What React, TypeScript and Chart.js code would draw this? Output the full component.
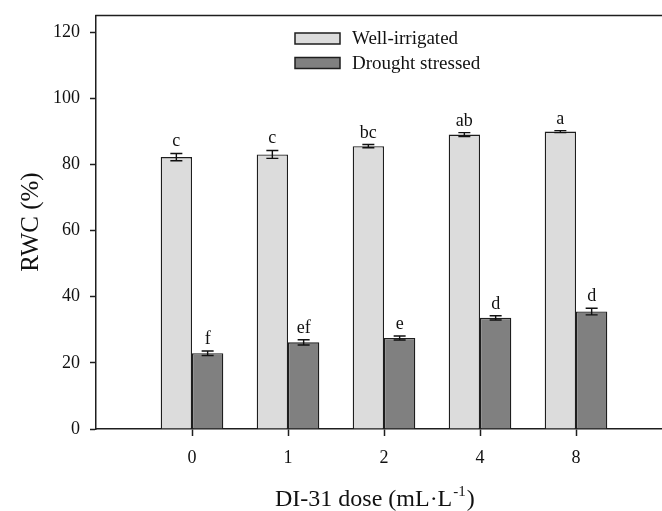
import React, { useEffect, useRef } from 'react';
import { Chart, registerables } from 'chart.js';

Chart.register(...registerables);

const doses = ['0', '1', '2', '4', '8'];
const wellIrrigated = [82.2, 83.0, 85.5, 89.0, 89.9];
const wellErr = [1.1, 1.2, 0.5, 0.6, 0.3];
const drought = [22.9, 26.2, 27.5, 33.6, 35.5];
const droughtErr = [0.7, 0.8, 0.6, 0.65, 1.0];
const wellLetters = ['c', 'c', 'bc', 'ab', 'a'];
const droughtLetters = ['f', 'ef', 'e', 'd', 'd'];
const yTicks = [0, 20, 40, 60, 80, 100, 120];
const seriesNames = ['Well-irrigated', 'Drought stressed'];
const yTitle = 'RWC (%)';
const xTitleMain = 'DI-31 dose (mL·L';
const xTitleSup = '-1';
const xTitleEnd = ')';

const FONT = '"Liberation Serif", "Times New Roman", serif';
const INK = '#1e1e1e';
const LIGHT = '#dcdcdc';
const DARK = '#808080';

export default function App() {
  const ref = useRef<HTMLCanvasElement | null>(null);

  useEffect(() => {
    const canvas = ref.current;
    if (!canvas) return;
    const labels = ['', ...doses, ''];
    const pad = (arr: number[]) => [null, ...arr, null];
    const errs = [wellErr, droughtErr];
    const vals = [wellIrrigated, drought];
    const letters = [wellLetters, droughtLetters];

    const overlay = {
      id: 'overlay',
      afterDatasetsDraw(chart: any) {
        const ctx = chart.ctx;
        const y = chart.scales.y;
        ctx.save();
        for (let d = 0; d < 2; d++) {
          const meta = chart.getDatasetMeta(d);
          for (let j = 0; j < doses.length; j++) {
            const el = meta.data[j + 1];
            if (!el) continue;
            const x = el.x;
            const v = vals[d][j];
            const e = errs[d][j];
            const yt = y.getPixelForValue(v + e);
            const yb = y.getPixelForValue(v - e);
            ctx.strokeStyle = '#111';
            ctx.lineWidth = 1.4;
            ctx.beginPath();
            ctx.moveTo(x, yt);
            ctx.lineTo(x, yb);
            ctx.moveTo(x - 6, yt);
            ctx.lineTo(x + 6, yt);
            ctx.moveTo(x - 6, yb);
            ctx.lineTo(x + 6, yb);
            ctx.stroke();
            ctx.fillStyle = '#111';
            ctx.font = `18px ${FONT}`;
            ctx.textAlign = 'center';
            ctx.textBaseline = 'alphabetic';
            ctx.fillText(letters[d][j], x, yt - 7);
          }
        }
        ctx.restore();
      },
      afterDraw(chart: any) {
        const ctx = chart.ctx;
        const a = chart.chartArea;
        ctx.save();
        // top frame line
        ctx.strokeStyle = INK;
        ctx.lineWidth = 1.5;
        ctx.beginPath();
        ctx.moveTo(a.left - 0.75, a.top);
        ctx.lineTo(a.right, a.top);
        ctx.stroke();
        // legend
        const fills = [LIGHT, DARK];
        const rows = [38.5, 63];
        for (let i = 0; i < 2; i++) {
          ctx.fillStyle = fills[i];
          ctx.fillRect(295, rows[i] - 5.5, 45, 11);
          ctx.strokeStyle = INK;
          ctx.lineWidth = 1.5;
          ctx.strokeRect(295, rows[i] - 5.5, 45, 11);
          ctx.fillStyle = '#111';
          ctx.font = `19px ${FONT}`;
          ctx.textAlign = 'left';
          ctx.textBaseline = 'middle';
          ctx.fillText(seriesNames[i], 352, rows[i] + 1);
        }
        // y title
        ctx.save();
        ctx.translate(38, 222);
        ctx.rotate(-Math.PI / 2);
        ctx.font = `25px ${FONT}`;
        ctx.textAlign = 'center';
        ctx.textBaseline = 'alphabetic';
        ctx.fillStyle = '#111';
        ctx.fillText(yTitle, 0, 0);
        ctx.restore();
        // x title with superscript
        ctx.fillStyle = '#111';
        ctx.textAlign = 'left';
        ctx.textBaseline = 'alphabetic';
        ctx.font = `24px ${FONT}`;
        const base = 506;
        let x = 275;
        ctx.fillText(xTitleMain, x, base);
        x += ctx.measureText(xTitleMain).width + 1;
        ctx.font = `15px ${FONT}`;
        ctx.fillText(xTitleSup, x, base - 10);
        x += ctx.measureText(xTitleSup).width + 1;
        ctx.font = `24px ${FONT}`;
        ctx.fillText(xTitleEnd, x, base);
        ctx.restore();
      },
    };

    const chart = new Chart(canvas, {
      type: 'bar',
      data: {
        labels,
        datasets: [
          {
            label: seriesNames[0],
            data: pad(wellIrrigated),
            backgroundColor: LIGHT,
            borderColor: INK,
            borderWidth: 1.3,
            categoryPercentage: 0.652,
            barPercentage: 1,
          },
          {
            label: seriesNames[1],
            data: pad(drought),
            backgroundColor: DARK,
            borderColor: INK,
            borderWidth: 1.3,
            categoryPercentage: 0.652,
            barPercentage: 1,
          },
        ],
      } as any,
      options: {
        responsive: false,
        animation: false,
        devicePixelRatio: 1,
        layout: { padding: { top: 15.5, right: 8, left: 0, bottom: 0 } },
        plugins: { legend: { display: false }, tooltip: { enabled: false } },
        scales: {
          x: {
            offset: false,
            grid: {
              display: true,
              offset: false,
              drawOnChartArea: false,
              drawTicks: true,
              tickLength: 7,
              tickWidth: 1.5,
              tickColor: (c: any) =>
                c.index === 0 || c.index === labels.length - 1 ? 'rgba(0,0,0,0)' : INK,
            },
            border: { display: true, color: INK, width: 1.5 },
            ticks: {
              font: { family: FONT, size: 18 },
              color: '#111',
              padding: 11,
              autoSkip: false,
              maxRotation: 0,
            },
            afterFit: (axis: any) => {
              axis.height = 82;
              axis.paddingLeft = 0;
              axis.paddingRight = 0;
            },
          },
          y: {
            min: 0,
            max: 125,
            afterBuildTicks: (axis: any) => {
              axis.ticks = yTicks.map((v) => ({ value: v }));
            },
            grid: {
              drawOnChartArea: false,
              drawTicks: true,
              tickLength: 6,
              tickWidth: 1.5,
              tickColor: INK,
            },
            border: { display: true, color: INK, width: 1.5 },
            ticks: {
              font: { family: FONT, size: 18 },
              color: '#111',
              padding: 10,
            },
            afterFit: (axis: any) => {
              axis.width = 96;
              axis.paddingTop = 0;
              axis.paddingBottom = 0;
            },
          },
        },
      } as any,
      plugins: [overlay],
    });
    return () => chart.destroy();
  }, []);

  return (
    <div
      style={{
        position: 'fixed',
        left: 0,
        top: 0,
        width: 662,
        height: 511,
        overflow: 'hidden',
        background: '#fff',
      }}
    >
      <canvas ref={ref} width={680} height={511} style={{ width: 680, height: 511, display: 'block' }} />
    </div>
  );
}
